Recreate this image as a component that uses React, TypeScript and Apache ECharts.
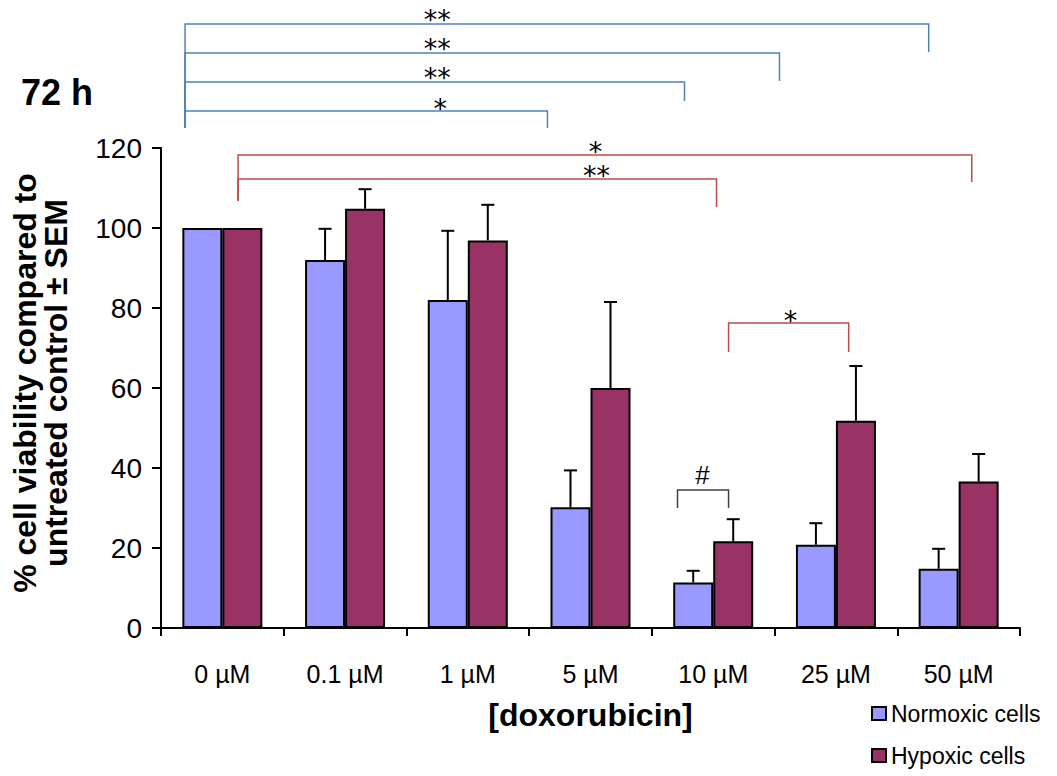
import React, { useEffect, useRef } from "react";
import * as echarts from "echarts";

const categories = ["0 µM", "0.1 µM", "1 µM", "5 µM", "10 µM", "25 µM", "50 µM"];
const normoxic = [100, 92, 82, 30.2, 11.4, 20.8, 14.8];
const normoxicSem = [0, 7.8, 17.3, 9.2, 2.9, 5.4, 5.0];
const hypoxic = [100, 104.8, 96.9, 60, 21.7, 51.8, 36.6];
const hypoxicSem = [0, 4.9, 8.9, 21.5, 5.5, 13.7, 6.9];
const yTicks = [0, 20, 40, 60, 80, 100, 120];

// significance brackets: x in category units (index + fraction), y in % units
const bracketX1 = [-0.304, -0.304, -0.304, -0.304, 0.128, 0.128, 4.125, 3.709];
const bracketX2 = [5.756, 4.54, 3.766, 2.649, 6.107, 4.027, 5.104, 4.125];
const bracketTop = [151, 143.75, 136.5, 129.25, 118.25, 112.25, 76.25, 34.5];
const bracketBottomL = [125, 125, 125, 125, 106.75, 106.75, 69, 30];
const bracketBottomR = [144, 136.75, 131.75, 125, 111.5, 105.25, 69, 30];
const labelX = [1.751, 1.751, 1.751, 1.776, 3.04, 3.048, 4.63, 3.913];
const labelY = [153.5, 146.25, 139, 131.25, 120.5, 114.5, 78.25, 38.25];
const labels = ["**", "**", "**", "*", "*", "**", "*", "#"];
const bracketGroup = ["blue", "blue", "blue", "blue", "red", "red", "red", "black"];

const groupColors: Record<string, string> = {
  blue: "#4F81BD",
  red: "#BE4B48",
  black: "#404040",
};

const FONT = "'Liberation Sans', Arial, sans-serif";
const STAR_FONT = "'DejaVu Sans', sans-serif";

export default function App() {
  const ref = useRef<HTMLDivElement>(null);

  useEffect(() => {
    document.body.style.margin = "0";
    const chart = echarts.init(ref.current!, null, { renderer: "svg" });

    const errorSeries = (name: string, vals: number[], sems: number[], dir: number) => ({
      type: "custom",
      name: name + " SEM",
      z: 5,
      data: vals.map((v, i) => [i, v, sems[i]]),
      renderItem: (params: any, api: any) => {
        const i = api.value(0);
        const v = api.value(1);
        const e = api.value(2);
        if (!e) return { type: "group", children: [] };
        const band = api.size([1, 0])[0];
        const off = dir * band * 0.163;
        const p0 = api.coord([i, v]);
        const p1 = api.coord([i, v + e]);
        const x = p0[0] + off;
        const st = { stroke: "#000", lineWidth: 2 };
        return {
          type: "group",
          children: [
            { type: "line", shape: { x1: x, y1: p0[1], x2: x, y2: p1[1] }, style: st },
            { type: "line", shape: { x1: x - 6.5, y1: p1[1], x2: x + 6.5, y2: p1[1] }, style: st },
          ],
        };
      },
    });

    const option: any = {
      animation: false,
      textStyle: { fontFamily: FONT },
      title: {
        text: "72 h",
        left: 21,
        top: 74,
        padding: 0,
        textStyle: { fontFamily: FONT, fontSize: 36, fontWeight: "bold", color: "#000" },
      },
      legend: {
        data: ["Normoxic cells", "Hypoxic cells"],
        orient: "vertical",
        left: 871,
        top: 702,
        padding: 0,
        itemWidth: 14,
        itemHeight: 13,
        itemGap: 19,
        icon: "rect",
        textStyle: { fontFamily: FONT, fontSize: 23, color: "#000" },
      },
      grid: { left: 161, right: 37, top: 148, bottom: 148, containLabel: false },
      xAxis: {
        type: "category",
        data: categories,
        name: "[doxorubicin]",
        nameLocation: "middle",
        nameGap: 71,
        nameTextStyle: { fontFamily: FONT, fontSize: 32, fontWeight: "bold", color: "#000" },
        axisLine: { lineStyle: { color: "#000", width: 2 } },
        axisTick: { show: true, length: 8, lineStyle: { color: "#000", width: 2 } },
        axisLabel: { fontFamily: FONT, fontSize: 25, color: "#000", margin: 33 },
      },
      yAxis: {
        type: "value",
        min: 0,
        max: 120,
        interval: 20,
        axisLine: { show: true, lineStyle: { color: "#000", width: 2 } },
        axisTick: { show: true, length: 9, lineStyle: { color: "#000", width: 2 } },
        axisLabel: {
          fontFamily: FONT,
          fontSize: 28,
          color: "#000",
          margin: 19,
          formatter: (v: number) => (yTicks.includes(v) ? String(v) : ""),
        },
        splitLine: { show: false },
      },
      graphic: [
        {
          type: "text",
          x: 40,
          y: 383,
          rotation: Math.PI / 2,
          style: {
            text: "% cell viability compared to\nuntreated control ± SEM",
            fontFamily: FONT,
            fontSize: 32,
            fontWeight: "bold",
            lineHeight: 31,
            fill: "#000",
            align: "center",
            verticalAlign: "middle",
          },
        },
      ],
      series: [
        {
          type: "bar",
          name: "Normoxic cells",
          data: normoxic,
          barWidth: 40,
          barGap: "0%",
          itemStyle: { color: "#9999FF", borderColor: "#000", borderWidth: 2 },
        },
        {
          type: "bar",
          name: "Hypoxic cells",
          data: hypoxic,
          barWidth: 40,
          barGap: "0%",
          itemStyle: { color: "#993366", borderColor: "#000", borderWidth: 2 },
        },
        errorSeries("Normoxic cells", normoxic, normoxicSem, -1),
        errorSeries("Hypoxic cells", hypoxic, hypoxicSem, 1),
        {
          type: "custom",
          name: "significance",
          z: 6,
          clip: false,
          data: bracketTop.map((t, i) => [i, t]),
          renderItem: (params: any, api: any) => {
            const k = params.dataIndex;
            const band = api.size([1, 0])[0];
            const x0 = api.coord([0, 0])[0];
            const toX = (u: number) => x0 + u * band;
            const toY = (v: number) => api.coord([0, v])[1];
            const color = groupColors[bracketGroup[k]];
            const xa = toX(bracketX1[k]);
            const xb = toX(bracketX2[k]);
            const yt = toY(bracketTop[k]);
            const st = { stroke: color, lineWidth: 1.5, fill: null };
            const isHash = labels[k] === "#";
            const fs = isHash ? 26 : 27;
            const dy = isHash ? 0 : fs * 0.22;
            return {
              type: "group",
              children: [
                {
                  type: "polyline",
                  shape: {
                    points: [
                      [xa, toY(bracketBottomL[k])],
                      [xa, yt],
                      [xb, yt],
                      [xb, toY(bracketBottomR[k])],
                    ],
                  },
                  style: st,
                },
                {
                  type: "text",
                  x: toX(labelX[k]),
                  y: toY(labelY[k]) + dy,
                  style: {
                    text: labels[k],
                    fontFamily: isHash ? FONT : STAR_FONT,
                    fontSize: fs,
                    fill: "#000",
                    align: "center",
                    verticalAlign: "middle",
                  },
                },
              ],
            };
          },
        },
      ],
    };

    chart.setOption(option);
    return () => chart.dispose();
  }, []);

  return <div ref={ref} style={{ width: 1057, height: 776 }} />;
}
